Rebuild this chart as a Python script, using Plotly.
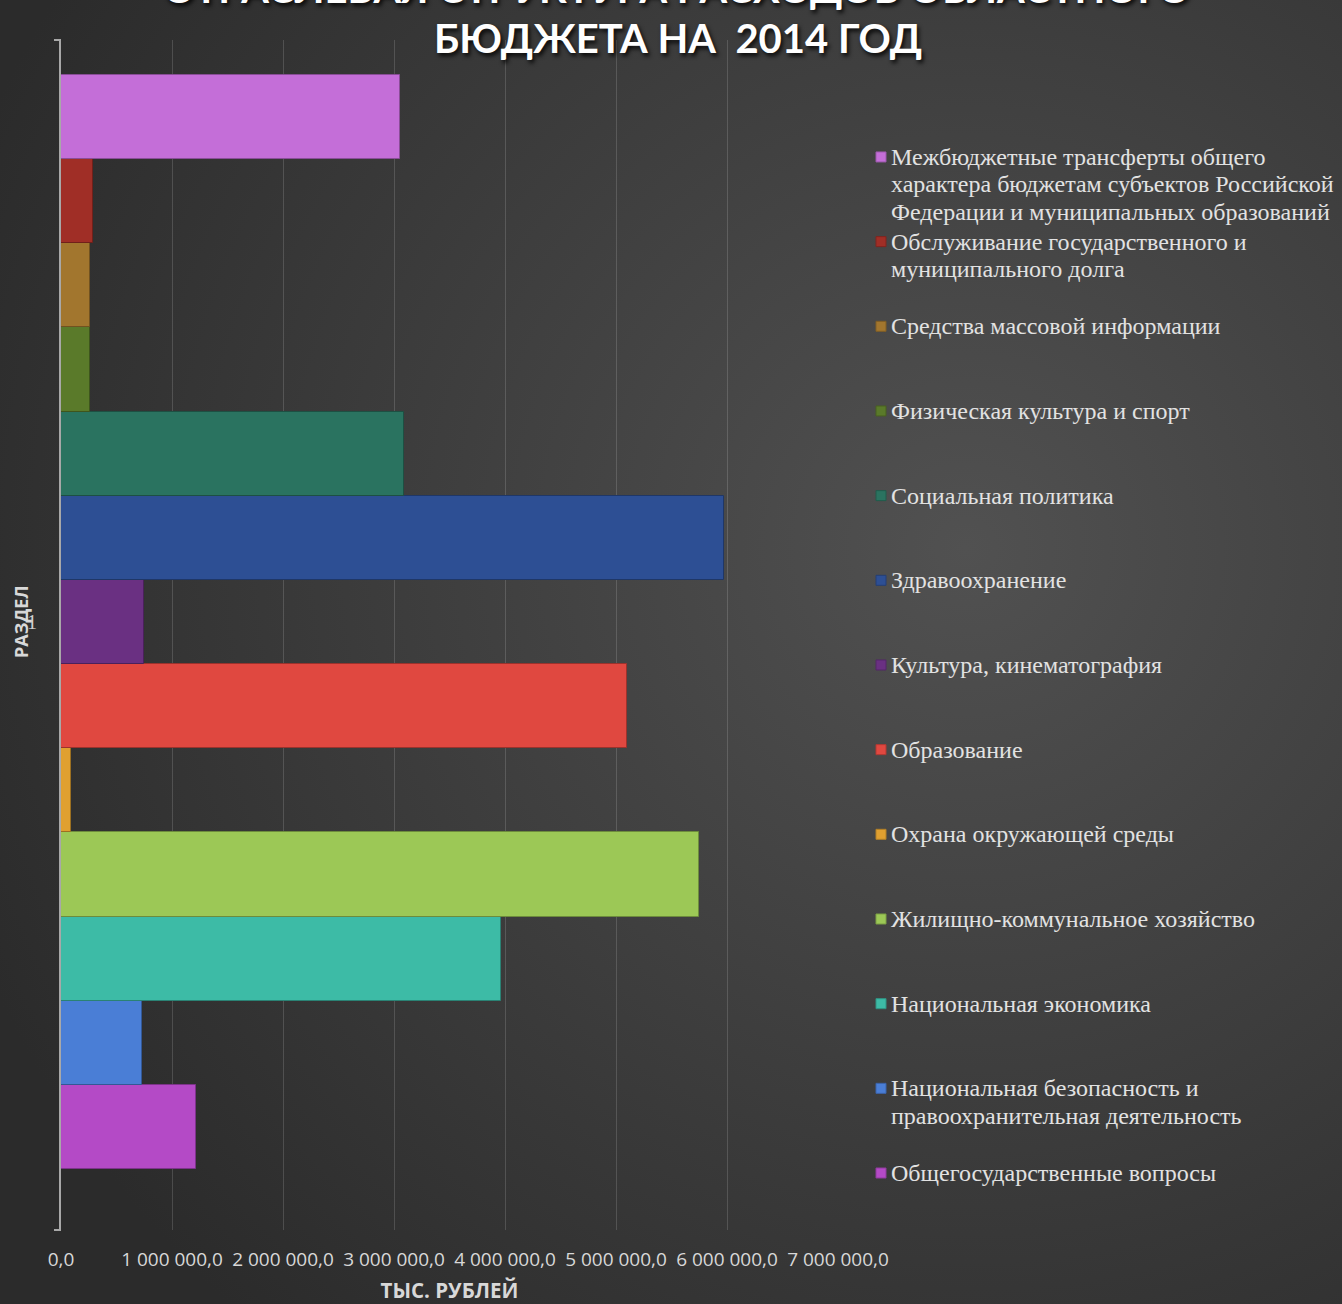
import base64
import plotly.graph_objects as go

# ---------------- data ----------------
section = [1]
series_names = [
    "Общегосударственные вопросы",
    "Национальная безопасность и правоохранительная деятельность",
    "Национальная экономика",
    "Жилищно-коммунальное хозяйство",
    "Охрана окружающей среды",
    "Образование",
    "Культура, кинематография",
    "Здравоохранение",
    "Социальная политика",
    "Физическая культура и спорт",
    "Средства массовой информации",
    "Обслуживание государственного и муниципального долга",
    "Межбюджетные трансферты общего характера бюджетам субъектов Российской Федерации и муниципальных образований",
]
legend_lines = [
    ["Общегосударственные вопросы"],
    ["Национальная безопасность и", "правоохранительная деятельность"],
    ["Национальная экономика"],
    ["Жилищно-коммунальное хозяйство"],
    ["Охрана окружающей среды"],
    ["Образование"],
    ["Культура, кинематография"],
    ["Здравоохранение"],
    ["Социальная политика"],
    ["Физическая культура и спорт"],
    ["Средства массовой информации"],
    ["Обслуживание государственного и", "муниципального долга"],
    ["Межбюджетные трансферты общего", "характера бюджетам субъектов Российской",
     "Федерации и муниципальных образований"],
]
values = [1220000, 730000, 3960000, 5750000, 90000, 5100000, 750000,
          5970000, 3090000, 260000, 260000, 290000, 3050000]
colors = ["#b44ac6", "#4a7ed6", "#3dbba6", "#9cc856", "#e0a030", "#e04840",
          "#6a3082", "#2d4f94", "#2a7360", "#5a7a2a", "#a2762e", "#a02e26",
          "#c46ed8"]
x_tickvals = [0, 1000000, 2000000, 3000000, 4000000, 5000000, 6000000, 7000000]
x_ticktext = ["0,0", "1 000 000,0", "2 000 000,0", "3 000 000,0",
              "4 000 000,0", "5 000 000,0", "6 000 000,0", "7 000 000,0"]
y_ticktext = ["1"]
title_line1 = "ОТРАСЛЕВАЯ СТРУКТУРА РАСХОДОВ ОБЛАСТНОГО"
title_line2 = "БЮДЖЕТА НА  2014 ГОД"

# ---------------- layout constants ----------------
W, H = 1342, 1304
ml, mr, mt, mb = 61, 504, 40, 74
PW, PH = W - ml - mr, H - mt - mb
Y0, Y1 = 0.4442, 1.532
PX_PER_UNIT = PH / (Y1 - Y0)
LEG_BOTTOM_PX = 1173   # centre of the last legend row
LEG_PITCH_PX = 84.67   # distance between legend rows
LEG_LINE_PX = 27.3     # line spacing inside a legend entry


def darker(hexcol, f=0.7):
    h = hexcol.lstrip("#")
    r, g, b = (int(h[i:i + 2], 16) for i in (0, 2, 4))
    return "rgb(%d,%d,%d)" % (r * f, g * f, b * f)


def px_x(px):
    return (px - ml) / PW


def px_y(px):
    return (H - mb - px) / PH


fig = go.Figure()
for name, val, col in zip(series_names, values, colors):
    fig.add_trace(go.Bar(
        y=section, x=[val], orientation="h", name=name,
        marker=dict(color=col, line=dict(color=darker(col), width=1)),
        hoverinfo="name+x", showlegend=False,
    ))

# ----- manual legend (rows follow the bar order) -----
annotations = []
shapes = []
for i, (lines, col) in enumerate(zip(legend_lines, colors)):
    row_px = LEG_BOTTOM_PX - i * LEG_PITCH_PX
    shapes.append(dict(type="rect", xref="paper", yref="paper",
                       x0=px_x(876), x1=px_x(886),
                       y0=px_y(row_px + 5), y1=px_y(row_px - 5),
                       fillcolor=col, line=dict(color=darker(col, 0.8), width=1)))
    for k, line in enumerate(lines):
        annotations.append(dict(
            text=line, xref="paper", yref="paper", x=px_x(889),
            y=px_y(row_px + k * LEG_LINE_PX), xanchor="left", yanchor="middle",
            showarrow=False,
            font=dict(family="Liberation Serif", size=24, color="#e2e2e2")))

# small end ticks of the category-axis line
for yy in (0, 1):
    shapes.append(dict(type="line", xref="paper", yref="paper",
                       x0=px_x(54), x1=px_x(61), y0=yy, y1=yy,
                       line=dict(color="#a8a8a8", width=2)))

# title (first line runs off the top edge as in the source)
annotations.append(dict(text="<b>" + title_line1 + "</b>", xref="paper", yref="paper",
                        x=px_x(676), y=px_y(-12), xanchor="center", yanchor="middle",
                        showarrow=False,
                        font=dict(family="Lato", size=40, color="#ffffff",
                                  shadow="2px 3px 4px rgba(0,0,0,0.85)")))
annotations.append(dict(text="<b>" + title_line2 + "</b>", xref="paper", yref="paper",
                        x=px_x(678), y=px_y(38), xanchor="center", yanchor="middle",
                        showarrow=False,
                        font=dict(family="Lato", size=40, color="#ffffff",
                                  shadow="2px 3px 4px rgba(0,0,0,0.85)")))
annotations.append(dict(text="<b>РАЗДЕЛ</b>", xref="paper", yref="y",
                        x=px_x(21), y=section[0], xanchor="center", yanchor="middle",
                        textangle=-90, showarrow=False,
                        font=dict(family="Open Sans", size=18, color="#d8d8d8")))

svg = """<svg xmlns='http://www.w3.org/2000/svg' width='1342' height='1304'>
<defs><radialGradient id='g' cx='0.72' cy='0.42' r='0.8'>
<stop offset='0' stop-color='#515151'/><stop offset='1' stop-color='#2b2b2b'/>
</radialGradient></defs><rect width='1342' height='1304' fill='url(#g)'/></svg>"""
bg_uri = "data:image/svg+xml;base64," + base64.b64encode(svg.encode()).decode()

fig.update_layout(
    width=W, height=H,
    margin=dict(l=ml, r=mr, t=mt, b=mb, autoexpand=False),
    paper_bgcolor="#3a3a3a", plot_bgcolor="rgba(0,0,0,0)",
    barmode="group", bargap=0, bargroupgap=0,
    showlegend=False,
    images=[dict(source=bg_uri, xref="paper", yref="paper",
                 x=-ml / PW, y=1 + mt / PH, sizex=W / PW, sizey=H / PH,
                 xanchor="left", yanchor="top", sizing="stretch",
                 layer="below")],
    xaxis=dict(
        range=[0, 7000000], tickvals=x_tickvals, ticktext=x_ticktext,
        tickangle=0, showgrid=True, gridcolor="rgba(255,255,255,0.15)",
        gridwidth=1, zeroline=False, showline=False, ticklabelstandoff=16,
        tickfont=dict(family="Open Sans", size=19, color="#d8d8d8"),
        title=dict(text="<b>ТЫС. РУБЛЕЙ</b>", standoff=26,
                   font=dict(family="Open Sans", size=20.5, color="#d8d8d8")),
        fixedrange=True,
    ),
    yaxis=dict(
        range=[Y0, Y1], tickvals=section, ticktext=y_ticktext,
        showgrid=False, zeroline=False, showline=True,
        linecolor="#a8a8a8", linewidth=2, ticks="", ticklabelstandoff=18,
        tickfont=dict(family="Liberation Serif", size=20, color="#cfcfcf"),
        fixedrange=True,
    ),
    annotations=annotations,
    shapes=shapes,
)

fig.write_html("out.html", config={"displayModeBar": False},
               post_script="document.body.style.margin='0';")
